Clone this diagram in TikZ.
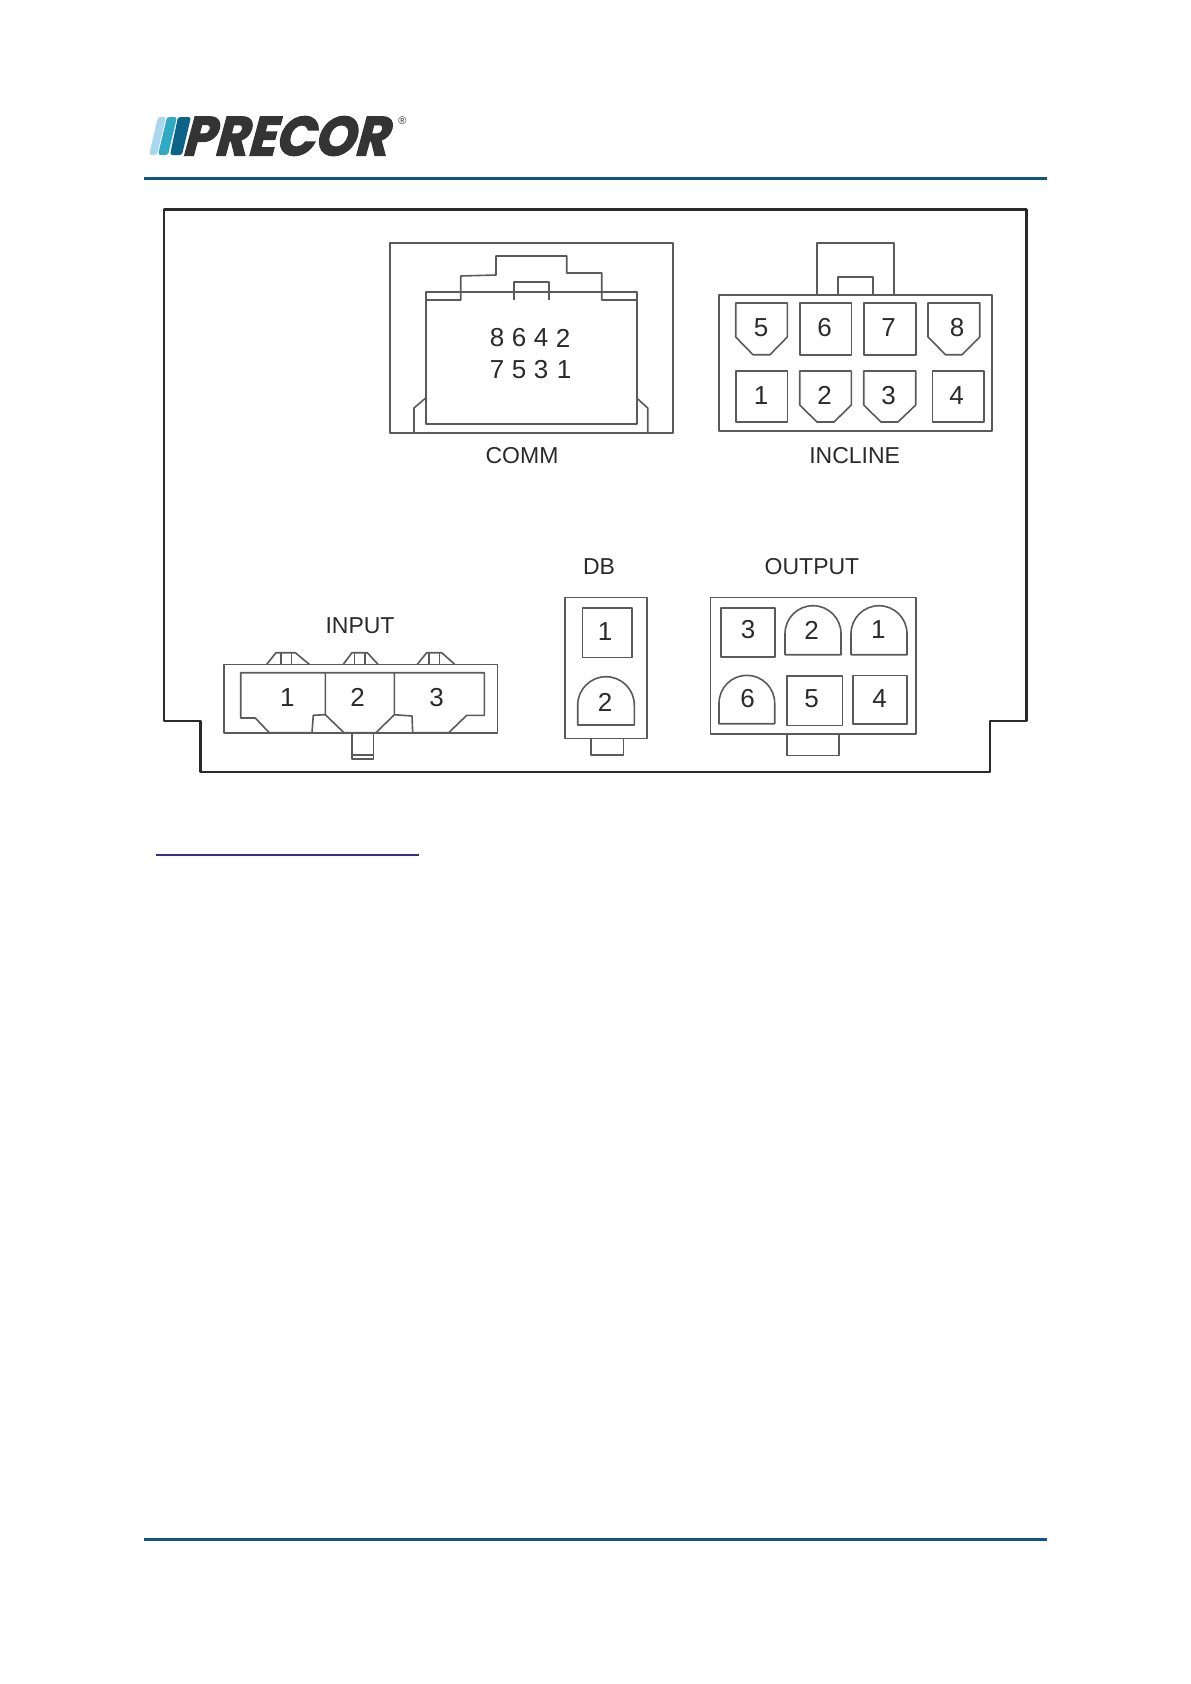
\documentclass[tikz,border=0pt]{standalone}
\usepackage{fontspec}
\setmainfont{Liberation Sans}
\newfontfamily\logofont[FakeBold=2.5]{Poppins Bold}
\tikzset{
  x=1pt,y=-1pt,
  part/.style={draw=linegrey,line width=1.6pt,line join=round},
  board/.style={draw=boardblack,line width=2.4pt,line join=round},
  rulebar/.style={draw=ruleblue,line width=3pt},
  lbl/.style={text=textgrey,font=\fontsize{23}{25}\selectfont,inner sep=0pt},
  pin/.style={text=textgrey,font=\fontsize{26}{28}\selectfont,inner sep=0pt},
}
\definecolor{linegrey}{HTML}{5A5A5A}
\definecolor{boardblack}{HTML}{2A2A2A}
\definecolor{ruleblue}{HTML}{0F5580}
\definecolor{textgrey}{HTML}{2A2A2A}
\definecolor{linkblue}{HTML}{2E3192}
\definecolor{logogrey}{HTML}{343434}
\definecolor{stripeA}{HTML}{A9D8EE}
\definecolor{stripeB}{HTML}{2FA9C4}
\definecolor{stripeC}{HTML}{0B6488}
\begin{document}
\begin{tikzpicture}
\useasboundingbox (0,0) rectangle (1191,1684);
\fill[white] (0,0) rectangle (1191,1684);
% header and footer
\draw[rulebar] (144,178) -- (1047,178);
\draw[rulebar] (144,1539) -- (1047,1539);
\draw[draw=linkblue,line width=2pt] (156,855) -- (419,855);
% logo
\fill[stripeA,rounded corners=2.5pt] (158,117) -- (166,117) -- (157,155) -- (149,155) -- cycle;
\fill[stripeB,rounded corners=2.5pt] (167,117) -- (177,117) -- (168,155) -- (158,155) -- cycle;
\fill[stripeC,rounded corners=2.5pt] (178,117) -- (191,117) -- (182,155) -- (170,155) -- cycle;
\node[text=logogrey,inner sep=0pt,anchor=center,xslant=0.27,xscale=0.93,font=\logofont\fontsize{55}{55}\selectfont] (logo) at (289.5,136) {PRECOR};
\node[text=logogrey,inner sep=0pt,font=\fontsize{11}{11}\selectfont] (reg) at (402.5,120.5) {®};
% board
\draw[board] (164,209.5) -- (1026.5,209.5) -- (1026.5,721) -- (990,721) -- (990,772) -- (200.5,772) -- (200.5,721) -- (164,721) -- cycle;
% COMM
\draw[part] (390,243) rectangle (673,433);
\draw[part] (425.7,291.7) rectangle (636.7,424);
\draw[part] (425.7,300) -- (460.7,300) -- (460.7,276) -- (496,275) -- (496,256) -- (566.7,256) -- (566.7,273) -- (601.7,273) -- (601.7,300) -- (636.7,300);
\draw[part] (513.7,300) -- (513.7,282) -- (549,282) -- (549,300);
\draw[part] (414,433) -- (414,408) -- (425.7,398);
\draw[part] (636.7,398) -- (647.7,408) -- (647.7,433);
\foreach \nm/\px/\py in {8/497/338,6/519/338,4/541/338,2/563/338,7/497/370,5/519/370,3/541/370,1/564/370}
  \node[pin] (comm\nm) at (\px,\py) {\nm};
\node[lbl] (commlabel) at (522,455.5) {COMM};
% INCLINE
\draw[part] (719,294.7) rectangle (992,431);
\draw[part] (816.7,294.7) -- (816.7,243) -- (894,243) -- (894,294.7);
\draw[part] (838,294.7) -- (838,276.7) -- (872.7,276.7) -- (872.7,294.7);
\draw[part] (735.7,303) -- (787.3,303) -- (787.3,337) -- (770,354.7) -- (753,354.7) -- (735.7,337) -- cycle;
\draw[part] (799.7,303) rectangle (851.3,354.7);
\draw[part] (863.7,303) rectangle (915.7,354.7);
\draw[part] (928,303) -- (979.7,303) -- (979.7,337) -- (962,354.7) -- (945.5,354.7) -- (928,337) -- cycle;
\draw[part] (735.7,371) rectangle (787.3,422);
\draw[part] (799.7,371) -- (851.3,371) -- (851.3,405) -- (834,422) -- (817,422) -- (799.7,405) -- cycle;
\draw[part] (863.7,371) -- (915.7,371) -- (915.7,405) -- (898,422) -- (881,422) -- (863.7,405) -- cycle;
\draw[part] (932.3,371) rectangle (983.7,422);
\foreach \nm/\px/\py in {5/761/327.3,6/824.7/327.3,7/888.6/327.3,8/957/327.3,1/761/395.7,2/824.5/395.7,3/888.5/395.7,4/956.7/395.7}
  \node[pin] (inc\nm) at (\px,\py) {\nm};
\node[lbl] (inclabel) at (854.7,455.5) {INCLINE};
% INPUT
\draw[part] (223.7,664.3) rectangle (497.3,732.7);
\draw[part] (240.7,672.7) -- (325.3,672.7) -- (325.3,714.7) -- (313.3,715.3) -- (312,732.7) -- (269.3,732.7) -- (255.3,718) -- (240.7,718) -- cycle;
\draw[part] (325.3,672.7) -- (394.3,672.7) -- (394.3,714.7) -- (376,732.7) -- (344,732.7) -- (325.3,714.7);
\draw[part] (394.3,672.7) -- (484.3,672.7) -- (484.3,715.3) -- (466.7,715.3) -- (448.7,732.7) -- (412.7,732.7) -- (412,716) -- (394.3,714.7);
\draw[part] (351.7,732.7) -- (351.7,758.7) -- (373.3,758.7) -- (373.3,732.7);
\draw[part] (351.7,755) -- (373.3,755);
\draw[part] (266.7,664.3) -- (276,652.7) -- (295.3,652.7) -- (309.3,664.3);
\draw[part] (280.7,664.3) -- (280.7,652.7) (291.3,652.7) -- (291.3,664.3);
\draw[part] (343.3,664.3) -- (352,652.7) -- (367.3,652.7) -- (378,664.3);
\draw[part] (354.3,664.3) -- (354.3,652.7) (365,652.7) -- (365,664.3);
\draw[part] (417.3,664.3) -- (426.7,652.7) -- (441.7,652.7) -- (454.7,664.3);
\draw[part] (428.7,664.3) -- (428.7,652.7) (439.3,652.7) -- (439.3,664.3);
\foreach \nm/\px in {1/287.3,2/357.7,3/436.7}
  \node[pin] (in\nm) at (\px,697.3) {\nm};
\node[lbl] (inlabel) at (360,626) {INPUT};
% DB
\draw[part] (565,597.3) rectangle (646.7,738.3);
\draw[part] (582.3,608) rectangle (632,657.3);
\draw[part] (577.7,725) -- (577.7,705) arc[start angle=180,end angle=0,x radius=28.3,y radius=-28.3] -- (634.3,725) -- cycle;
\draw[part] (590.7,738.3) -- (590.7,755) -- (623.3,755) -- (623.3,738.3);
\node[pin] (db1) at (605,632) {1};
\node[pin] (db2) at (605,702.7) {2};
\node[lbl] (dblabel) at (599,566.5) {DB};
% OUTPUT
\draw[part] (710.3,597.3) rectangle (915.7,734);
\draw[part] (787,734) -- (787,755.3) -- (839,755.3) -- (839,734);
\draw[part] (720.7,608) rectangle (774.7,657);
\draw[part] (785,654.7) -- (785,633.7) arc[start angle=180,end angle=0,x radius=28,y radius=-28] -- (841,654.7) -- cycle;
\draw[part] (851,654.7) -- (851,633.7) arc[start angle=180,end angle=0,x radius=28,y radius=-28] -- (907,654.7) -- cycle;
\draw[part] (719,723.7) -- (719,703.3) arc[start angle=180,end angle=0,x radius=27.85,y radius=-28] -- (774.7,723.7) -- cycle;
\draw[part] (787,676) rectangle (842.3,725.3);
\draw[part] (853,675.3) rectangle (907,724);
\foreach \nm/\px/\py in {3/748/630,2/811.5/630,1/878.3/630,6/747.7/698.7,5/811.7/698.7,4/879.7/698.7}
  \node[pin] (out\nm) at (\px,\py) {\nm};
\node[lbl] (outlabel) at (812,566.5) {OUTPUT};
\end{tikzpicture}
\end{document}
